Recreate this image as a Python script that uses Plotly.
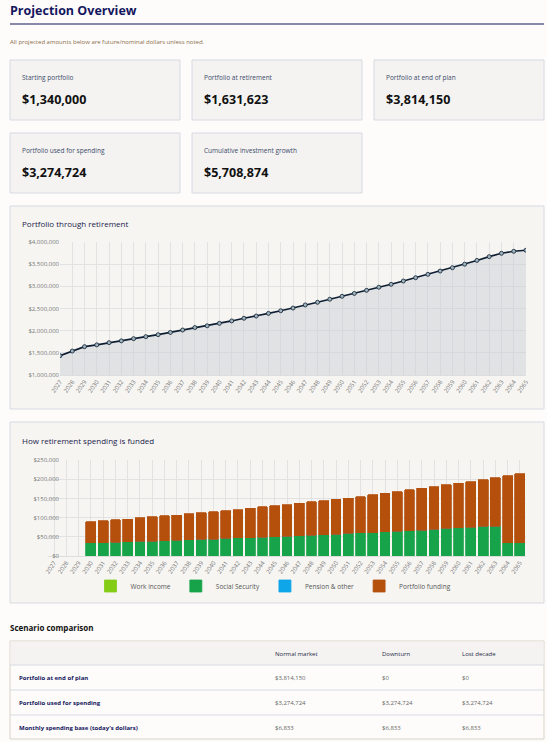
import plotly.graph_objects as go

W, H = 547, 742
years = list(range(2027, 2066))
year_labels = [str(y) for y in years]
portfolio = [1436000, 1540000, 1640000, 1680000, 1730000, 1770000, 1820000, 1865000, 1910000, 1960000,
             2015000, 2070000, 2110000, 2165000, 2220000, 2280000, 2330000, 2390000, 2450000, 2510000,
             2580000, 2640000, 2710000, 2775000, 2840000, 2910000, 2980000, 3045000, 3120000, 3195000,
             3270000, 3345000, 3420000, 3500000, 3585000, 3670000, 3745000, 3790000, 3814150]
work_income = [0] * 39
social_security = [0, 0, 0, 34000, 35000, 36000, 37000, 38000, 39000, 40000, 41000, 42000, 43000, 44000,
                   46000, 47000, 47000, 49000, 50000, 51000, 53000, 54000, 56000, 57000, 59000, 60000,
                   61000, 63000, 64000, 66000, 67000, 70000, 72000, 73000, 75000, 77000, 78000, 34000, 34000]
pension_other = [0] * 39
portfolio_funding = [0, 0, 0, 55000, 57000, 58500, 59000, 62000, 63000, 65000, 65500, 68000, 69500, 71000,
                     72500, 74000, 77500, 79000, 80500, 83000, 84500, 87000, 88000, 91000, 92000, 94500,
                     98000, 100000, 103000, 106000, 109000, 110000, 113000, 116000, 118000, 122000, 126000,
                     175000, 180000]
cards = [("Starting portfolio", "$1,340,000"), ("Portfolio at retirement", "$1,631,623"),
         ("Portfolio at end of plan", "$3,814,150"), ("Portfolio used for spending", "$3,274,724"),
         ("Cumulative investment growth", "$5,708,874")]
table_cols = ["Normal market", "Downturn", "Lost decade"]
table_rows = ["Portfolio at end of plan", "Portfolio used for spending", "Monthly spending base (today's dollars)"]
table_vals = [["$3,814,150", "$0", "$0"], ["$3,274,724", "$3,274,724", "$3,274,724"],
              ["$6,833", "$6,833", "$6,833"]]

FONT = "Open Sans"
NAVY = "#14165e"
def px(x): return x / W
def py(y): return 1 - y / H

fig = go.Figure()
shapes, ann = [], []
def rect(x0, y0, x1, y1, fill, line="#d6dae2"):
    shapes.append(dict(type="rect", xref="paper", yref="paper", x0=px(x0), x1=px(x1), y0=py(y1), y1=py(y0),
                       fillcolor=fill, line=dict(color=line, width=1), layer="below"))
def text(x, y, s, size, color="#333", bold=False, xanchor="left"):
    ann.append(dict(xref="paper", yref="paper", x=px(x), y=py(y), text=f"<b>{s}</b>" if bold else s,
                    showarrow=False, xanchor=xanchor, yanchor="middle",
                    font=dict(family=FONT, size=size, color=color)))

text(8, 11, "Projection Overview", 12.5, NAVY, True)
shapes.append(dict(type="line", xref="paper", yref="paper", x0=px(10), x1=px(544), y0=py(24), y1=py(24),
                   line=dict(color=NAVY, width=1.2)))
text(8, 42, "All projected amounts below are future/nominal dollars unless noted.", 6, "#8a6d4a")

pos = [(10, 60), (192, 60), (374, 60), (10, 133), (192, 133)]
for (x, y), (lab, val) in zip(pos, cards):
    rect(x, y, x + 170, y + 60, "#f4f3f1")
    text(x + 10, y + 18, lab, 6.5, "#3b4b6b")
    text(x + 10, y + 39, val, 12.5, "#111", True)

rect(10, 206, 544, 409, "#f6f5f2")
text(20, 224, "Portfolio through retirement", 8, "#22224a")
rect(10, 422, 544, 603, "#f6f5f2")
text(20, 440, "How retirement spending is funded", 8, "#22224a")

fig.add_trace(go.Scatter(x=year_labels, y=portfolio, mode="lines+markers", fill="tozeroy",
                         fillcolor="rgba(200,205,210,0.45)", line=dict(color="#0f1f33", width=1.6),
                         marker=dict(size=4, color="#9fb3bb", line=dict(color="#0f1f33", width=0.8)),
                         showlegend=False, xaxis="x", yaxis="y"))
series = [("Work income", work_income, "#84cc16"), ("Social Security", social_security, "#16a34a"),
          ("Pension & other", pension_other, "#0ea5e9"), ("Portfolio funding", portfolio_funding, "#b4500c")]
for name, vals, col in series:
    fig.add_trace(go.Bar(x=year_labels, y=vals, name=name, marker=dict(color=col, line=dict(color=col, width=0.8)),
                         xaxis="x2", yaxis="y2"))

tick = dict(family=FONT, size=6, color="#777")
ax = dict(showgrid=True, gridcolor="#e2e2e2", tickfont=tick, tickangle=-55, linecolor="#ddd", zeroline=False,
          automargin=False)
fig.update_layout(
    width=W, height=H, margin=dict(l=0, r=0, t=0, b=0, pad=0, autoexpand=False),
    paper_bgcolor="#fdfcfa", plot_bgcolor="rgba(0,0,0,0)",
    barmode="stack", bargap=0.2,
    xaxis=dict(domain=[px(60), px(526)], anchor="y", **ax),
    yaxis=dict(domain=[py(375), py(242)], range=[1000000, 4000000], dtick=500000, tickformat="$,.0f",
               showgrid=True, gridcolor="#e2e2e2", tickfont=tick, zeroline=False, automargin=False),
    xaxis2=dict(domain=[px(48), px(526)], anchor="y2", **ax),
    yaxis2=dict(domain=[py(556), py(460)], range=[0, 250000], dtick=50000, tickformat="$,.0f",
                showgrid=True, gridcolor="#e2e2e2", tickfont=tick, zeroline=False, automargin=False),
    legend=dict(orientation="h", x=0.5, xanchor="center", y=py(586), yanchor="middle", traceorder="normal",
                itemwidth=30, font=dict(family=FONT, size=6.5, color="#555"), bgcolor="rgba(0,0,0,0)"),
)

# table
text(8, 627, "Scenario comparison", 8, "#111", True)
rect(10, 641, 544, 739, "#fdfcfa", "#d9d2c8")
rect(10.5, 641.5, 543.5, 665, "#f4f3f1", "rgba(0,0,0,0)")
colx = [273, 380, 460]
for cx, c in zip(colx, table_cols):
    text(cx, 654, c, 6, "#1f2a44")
ry = [665, 690, 715]
for i, (r, vals) in enumerate(zip(table_rows, table_vals)):
    shapes.append(dict(type="line", xref="paper", yref="paper", x0=px(10), x1=px(544), y0=py(ry[i]), y1=py(ry[i]),
                       line=dict(color="#d6dae2", width=1)))
    cy = ry[i] + 12.5
    text(17, cy, r, 6, "#14165e", True)
    for cx, v in zip(colx, vals):
        text(cx, cy, v, 6, "#666")
fig.update_layout(shapes=shapes, annotations=ann)
fig.write_html("out.html", config={"displayModeBar": False},
               post_script="document.body.style.margin='0';document.body.style.overflow='hidden';")
